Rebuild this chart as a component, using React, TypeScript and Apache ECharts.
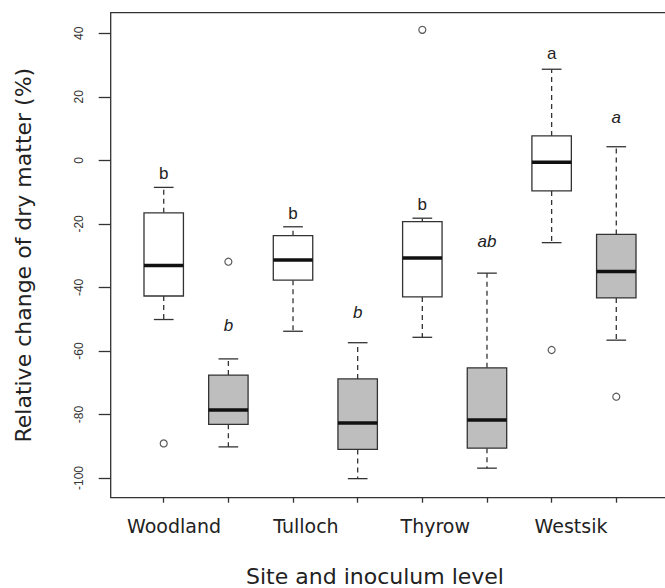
import React, { useEffect, useRef } from "react";
import * as echarts from "echarts";

const categories = ["Woodland", "Tulloch", "Thyrow", "Westsik"];
const categoryLabelPos = [1.16, 3.2, 5.2, 7.3];
const boxPositions = [1, 2, 3, 4, 5, 6, 7, 8];
const whiskerLow = [-50.1, -90.2, -53.8, -100.2, -55.7, -96.9, -25.9, -56.6];
const quartile1 = [-42.7, -83.1, -37.7, -91.0, -43.0, -90.6, -9.6, -43.3];
const medians = [-33.1, -78.6, -31.4, -82.7, -30.7, -81.7, -0.6, -35.0];
const quartile3 = [-16.5, -67.6, -23.7, -68.8, -19.3, -65.3, 7.7, -23.3];
const whiskerHigh = [-8.5, -62.5, -20.9, -57.4, -18.2, -35.5, 28.7, 4.3];
const inoculumHigh = [false, true, false, true, false, true, false, true];
const letters = ["b", "b", "b", "b", "b", "ab", "a", "a"];
const letterY = [-4.0, -52.0, -16.6, -47.8, -14.0, -25.6, 33.7, 13.6];
const outliers = [
  [1, -89.1],
  [2, -31.9],
  [5, 41.1],
  [7, -59.7],
  [8, -74.4],
];
const yTicks = [-100, -80, -60, -40, -20, 0, 20, 40];

const LINE = "#333333";
const GRAY = "#bebebe";
const GEO_FONT = "'DejaVu Sans', sans-serif";

export default function App() {
  const ref = useRef<HTMLDivElement>(null);
  useEffect(() => {
    if (!ref.current) return;
    const chart = echarts.init(ref.current, null, { renderer: "svg" });
    const boxData = boxPositions.map((p, i) => [
      p,
      whiskerLow[i],
      quartile1[i],
      medians[i],
      quartile3[i],
      whiskerHigh[i],
      letterY[i],
      i,
    ]);
    const option: any = {
      animation: false,
      backgroundColor: "#ffffff",
      grid: {
        left: 110.7,
        top: 12.7,
        width: 558.6,
        height: 485,
        outerBoundsMode: "none",
        containLabel: false,
        show: true,
        borderColor: LINE,
        borderWidth: 1.3,
        backgroundColor: "transparent",
      },
      xAxis: {
        type: "value",
        min: 0.18,
        max: 8.82,
        axisLine: { show: false, onZero: false },
        splitLine: { show: false },
        axisTick: {
          show: true,
          customValues: boxPositions,
          length: 5,
          lineStyle: { color: LINE, width: 1.3 },
        },
        axisLabel: {
          show: true,
          customValues: categoryLabelPos,
          margin: 19,
          fontFamily: GEO_FONT,
          fontSize: 19,
          color: "#222",
          formatter: (v: number) => {
            let best = 0;
            categoryLabelPos.forEach((p, i) => {
              if (Math.abs(p - v) < Math.abs(categoryLabelPos[best] - v)) best = i;
            });
            return categories[best];
          },
        },
        name: "Site and inoculum level",
        nameLocation: "middle",
        nameGap: 68,
        nameTextStyle: {
          fontFamily: GEO_FONT,
          fontSize: 22,
          color: "#222",
          padding: [0, 30, 0, 0],
        },
      },
      yAxis: {
        type: "value",
        min: -106.2,
        max: 46.5,
        axisLine: { show: false, onZero: false },
        splitLine: { show: false },
        axisTick: {
          show: true,
          customValues: yTicks,
          length: 12,
          lineStyle: { color: LINE, width: 1.3 },
        },
        axisLabel: {
          show: true,
          customValues: yTicks,
          rotate: 90,
          margin: 26,
          fontFamily: "'Liberation Sans', Arial, sans-serif",
          fontSize: 12,
          color: "#333",
        },
        name: "Relative change of dry matter (%)",
        nameLocation: "middle",
        nameGap: 76,
        nameRotate: 90,
        nameTextStyle: { fontFamily: GEO_FONT, fontSize: 22, color: "#222" },
      },
      series: [
        {
          type: "custom",
          data: boxData,
          encode: { x: 0, y: [1, 2, 3, 4, 5] },
          renderItem: (params: any, api: any) => {
            const x = api.value(0);
            const lo = api.value(1);
            const q1 = api.value(2);
            const med = api.value(3);
            const q3 = api.value(4);
            const hi = api.value(5);
            const ly = api.value(6);
            const idx = api.value(7);
            const unit = api.size([1, 0])[0];
            const bw = unit * 0.61;
            const cw = bw / 2;
            const pLo = api.coord([x, lo]);
            const pQ1 = api.coord([x, q1]);
            const pMed = api.coord([x, med]);
            const pQ3 = api.coord([x, q3]);
            const pHi = api.coord([x, hi]);
            const pL = api.coord([x, ly]);
            const cx = pMed[0];
            const fill = inoculumHigh[idx] ? GRAY : "#ffffff";
            return {
              type: "group",
              children: [
                {
                  type: "line",
                  shape: { x1: cx, y1: pQ3[1], x2: cx, y2: pHi[1] },
                  style: { stroke: LINE, lineWidth: 1.3, lineDash: [5, 4] },
                },
                {
                  type: "line",
                  shape: { x1: cx, y1: pQ1[1], x2: cx, y2: pLo[1] },
                  style: { stroke: LINE, lineWidth: 1.3, lineDash: [5, 4] },
                },
                {
                  type: "line",
                  shape: { x1: cx - cw / 2, y1: pHi[1], x2: cx + cw / 2, y2: pHi[1] },
                  style: { stroke: LINE, lineWidth: 1.3 },
                },
                {
                  type: "line",
                  shape: { x1: cx - cw / 2, y1: pLo[1], x2: cx + cw / 2, y2: pLo[1] },
                  style: { stroke: LINE, lineWidth: 1.3 },
                },
                {
                  type: "rect",
                  shape: { x: cx - bw / 2, y: pQ3[1], width: bw, height: pQ1[1] - pQ3[1] },
                  style: { fill, stroke: LINE, lineWidth: 1.3 },
                },
                {
                  type: "line",
                  shape: { x1: cx - bw / 2, y1: pMed[1], x2: cx + bw / 2, y2: pMed[1] },
                  style: { stroke: "#111", lineWidth: 3.5 },
                },
                {
                  type: "text",
                  x: cx,
                  y: pL[1],
                  style: {
                    text: letters[idx],
                    fill: "#222",
                    font: `${inoculumHigh[idx] ? "italic " : ""}17px 'Liberation Sans', Arial, sans-serif`,
                    align: "center",
                    verticalAlign: "middle",
                  },
                },
              ],
            };
          },
        },
        {
          type: "scatter",
          data: outliers,
          symbol: "circle",
          symbolSize: 7,
          itemStyle: { color: "#ffffff", borderColor: LINE, borderWidth: 1.2 },
        },
      ],
    };
    chart.setOption(option);
    return () => chart.dispose();
  }, []);
  return (
    <div
      ref={ref}
      style={{ position: "fixed", left: 0, top: 0, width: 665, height: 588, background: "#fff" }}
    />
  );
}
